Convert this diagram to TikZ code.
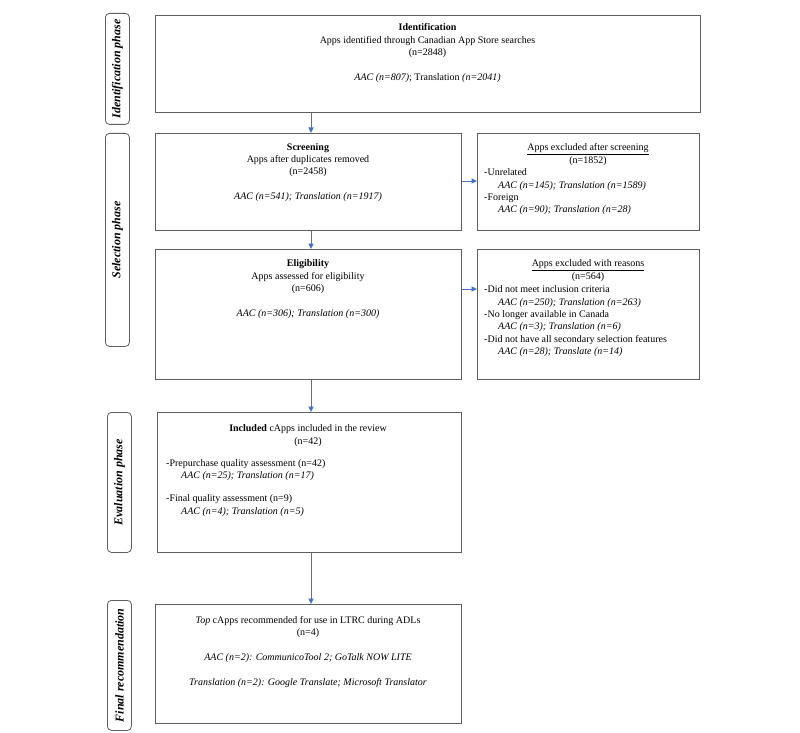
\documentclass[tikz,border=0pt]{standalone}
\usepackage{fontspec}
\setmainfont{Liberation Serif}
\usetikzlibrary{arrows.meta,calc}
\definecolor{boxgray}{HTML}{5F5F5F}
\definecolor{arrblue}{HTML}{4472C4}
\begin{document}
\begin{tikzpicture}[x=1pt,y=-1pt,
  box/.style={draw=boxgray, line width=0.8pt, inner sep=0pt, anchor=north west},
  phasebox/.style={draw=boxgray, line width=0.8pt, rounded corners=4pt, inner sep=0pt, anchor=north west},
  phasetxt/.style={inner sep=0pt, rotate=90, font=\bfseries\itshape\fontsize{12}{14}\selectfont},
  txt/.style={inner sep=0pt, anchor=north, align=center, font=\fontsize{10}{12.4}\selectfont},
  ltxt/.style={inner sep=0pt, anchor=north west, align=left, font=\fontsize{10}{12.4}\selectfont},
  arr/.style={draw=arrblue, line width=0.9pt, -{Triangle[length=5.5pt,width=5pt]}}
]
\useasboundingbox (0,0) rectangle (800,733);

% phase boxes
\node[phasebox, minimum width=24pt, minimum height=111pt] (pid) at (105,13) {};
\node[phasetxt] (pidT) at (pid.center) {Identification phase};
\node[phasebox, minimum width=24pt, minimum height=213pt] (psel) at (105,133) {};
\node[phasetxt] (pselT) at (psel.center) {Selection phase};
\node[phasebox, minimum width=24pt, minimum height=140pt] (peval) at (107,412) {};
\node[phasetxt] (pevalT) at (peval.center) {Evaluation phase};
\node[phasebox, minimum width=24pt, minimum height=130pt] (pfin) at (107,600) {};
\node[phasetxt] (pfinT) at (pfin.center) {Final recommendation};

% main boxes
\node[box, minimum width=545pt, minimum height=97pt] (ident) at (155,15) {};
\node[box, minimum width=306pt, minimum height=97pt] (screen) at (155,133) {};
\node[box, minimum width=222pt, minimum height=97pt] (exclS) at (477,133) {};
\node[box, minimum width=306pt, minimum height=130pt] (elig) at (155,249) {};
\node[box, minimum width=222pt, minimum height=130pt] (exclR) at (477,249) {};
\node[box, minimum width=304pt, minimum height=140pt] (incl) at (157,412) {};
\node[box, minimum width=306pt, minimum height=119pt] (final) at (155,604) {};

% texts
\node[txt] (identT) at (427.5,23.5) {\textbf{Identification}\\ Apps identified through Canadian App Store searches\\ (n=2848)\\[12.4pt] \textit{AAC (n=807)}; Translation \textit{(n=2041)}};

\node[txt] (screenT) at (308,143) {\textbf{Screening}\\ Apps after duplicates removed\\ (n=2458)\\[12.4pt] \textit{AAC (n=541); Translation (n=1917)}};

\node[txt] (exclSH) at (588,143.5) {\underline{Apps excluded after screening}\\ (n=1852)};
\node[ltxt] (exclSL) at (484,168.5) {-Unrelated\\ \hspace*{14pt}\textit{AAC (n=145); Translation (n=1589)}\\ -Foreign\\ \hspace*{14pt}\textit{AAC (n=90); Translation (n=28)}};

\node[txt] (eligT) at (308,259.5) {\textbf{Eligibility}\\ Apps assessed for eligibility\\ (n=606)\\[12.4pt] \textit{AAC (n=306); Translation (n=300)}};

\node[txt] (exclRH) at (588,259.5) {\underline{Apps excluded with reasons}\\ (n=564)};
\node[ltxt] (exclRL) at (484,285.5) {-Did not meet inclusion criteria\\ \hspace*{14pt}\textit{AAC (n=250); Translation (n=263)}\\ -No longer available in Canada\\ \hspace*{14pt}\textit{AAC (n=3); Translation (n=6)}\\ -Did not have all secondary selection features\\ \hspace*{14pt}\textit{AAC (n=28); Translate (n=14)}};

\node[txt] (inclH) at (308,424.5) {\textbf{Included} cApps included in the review\\ (n=42)};
\node[ltxt] (inclL) at (166,459) {-Prepurchase quality assessment (n=42)\\ \hspace*{15pt}\textit{AAC (n=25); Translation (n=17)}\\[11pt] -Final quality assessment (n=9)\\ \hspace*{15pt}\textit{AAC (n=4); Translation (n=5)}};

\node[txt] (finalT) at (308,616) {\textit{Top} cApps recommended for use in LTRC during ADLs\\ (n=4)\\[12.4pt] \textit{AAC (n=2): CommunicoTool 2; GoTalk NOW LITE}\\[12.4pt] \textit{Translation (n=2): Google Translate; Microsoft Translator}};

% connectors
\coordinate (col) at (311,0);
\coordinate (r1) at (0,181);
\coordinate (r2) at (0,289);
\draw[arr] (col |- ident.south) -- (col |- screen.north);
\draw[arr] (col |- screen.south) -- (col |- elig.north);
\draw[arr] (col |- elig.south) -- (col |- incl.north);
\draw[arr] (col |- incl.south) -- (col |- final.north);
\draw[arr] (screen.east |- r1) -- (exclS.west |- r1);
\draw[arr] (elig.east |- r2) -- (exclR.west |- r2);
\end{tikzpicture}
\end{document}
